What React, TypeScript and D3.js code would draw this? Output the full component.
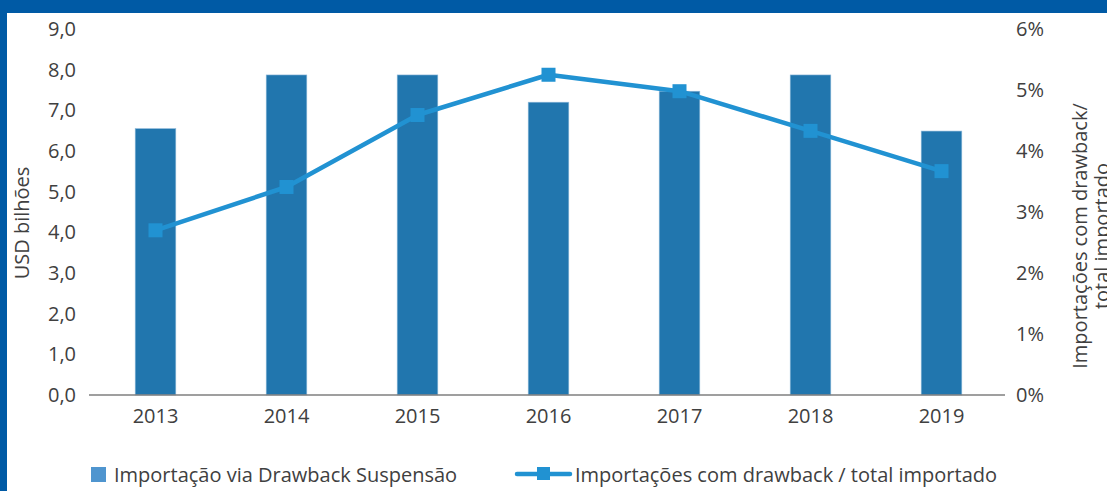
import React from "react";
import * as d3 from "d3";

const years = ["2013", "2014", "2015", "2016", "2017", "2018", "2019"];
const importValues = [6.55, 7.87, 7.87, 7.2, 7.47, 7.87, 6.49];
const shareValues = [0.027, 0.0341, 0.0459, 0.0525, 0.0498, 0.0433, 0.0367];
const leftTicks = [0, 1, 2, 3, 4, 5, 6, 7, 8, 9];
const rightTicks = [0, 0.01, 0.02, 0.03, 0.04, 0.05, 0.06];

const W = 1107;
const H = 491;
const FONT = "'Open Sans', 'Noto Sans', sans-serif";
const FS = 20;
const TEXT = "#404040";
const BAR = "#2176AE";
const LINE = "#2192D2";
const BORDER = "#005AA5";

export default function App() {
  const x = d3.scaleBand<string>().domain(years).range([90, 1007]).paddingInner(0.69).paddingOuter(0.345);
  const yL = d3.scaleLinear().domain([0, 9]).range([395, 29]);
  const yR = d3.scaleLinear().domain([0, 0.06]).range([395, 29]);
  const fmtL = (v: number) => d3.format(".1f")(v).replace(".", ",");
  const fmtR = (v: number) => `${Math.round(v * 100)}%`;
  const cx = (i: number) => (x(years[i]) as number) + x.bandwidth() / 2;
  const line = d3
    .line<number>()
    .x((_, i) => cx(i))
    .y((d) => yR(d));

  return (
    <svg width={W} height={H} style={{ position: "absolute", left: 0, top: 0 }} fontFamily={FONT}>
      <rect x={0} y={0} width={W} height={H} fill="#fff" />
      <rect x={0} y={0} width={W} height={13} fill={BORDER} />
      <rect x={0} y={0} width={7} height={H} fill={BORDER} />

      {leftTicks.map((t) => (
        <text key={t} x={76} y={yL(t)} dy="0.35em" textAnchor="end" fontSize={FS} fill={TEXT}>
          {fmtL(t)}
        </text>
      ))}
      {rightTicks.map((t) => (
        <text key={t} x={1016} y={yR(t)} dy="0.35em" textAnchor="start" fontSize={FS} fill={TEXT}>
          {fmtR(t)}
        </text>
      ))}

      <text transform={`translate(29,223) rotate(-90)`} textAnchor="middle" fontSize={FS} fill={TEXT}>
        USD bilhões
      </text>
      <text transform={`translate(1087,236) rotate(-90)`} textAnchor="middle" fontSize={FS} fill={TEXT}>
        <tspan x={0} dy={0}>Importações com drawback/</tspan>
        <tspan x={0} dy={22}>total importado</tspan>
      </text>

      {years.map((yr, i) => (
        <rect
          key={yr}
          x={x(yr)}
          y={yL(importValues[i])}
          width={x.bandwidth()}
          height={yL(0) - yL(importValues[i])}
          fill={BAR}
          stroke="#8db8da"
          strokeWidth={0.6}
        />
      ))}

      <line x1={89} x2={1005} y1={395} y2={395} stroke="#7f7f7f" strokeWidth={1.3} />

      {years.map((yr, i) => (
        <text key={yr} x={cx(i)} y={423} textAnchor="middle" fontSize={FS} fill={TEXT}>
          {yr}
        </text>
      ))}

      <path d={line(shareValues) ?? ""} fill="none" stroke={LINE} strokeWidth={4.5} strokeLinejoin="round" />
      {shareValues.map((v, i) => (
        <rect key={i} x={cx(i) - 7} y={yR(v) - 7} width={14} height={14} fill={LINE} />
      ))}

      <rect x={91} y={467} width={15} height={15} fill="#4F95CF" />
      <text x={114} y={482} fontSize={FS} fill={TEXT}>
        Importação via Drawback Suspensão
      </text>
      <line x1={517} x2={570} y1={474} y2={474} stroke={LINE} strokeWidth={4.5} strokeLinecap="round" />
      <rect x={537} y={467} width={13} height={13} fill={LINE} />
      <text x={575} y={482} fontSize={FS} fill={TEXT}>
        Importações com drawback / total importado
      </text>
    </svg>
  );
}
